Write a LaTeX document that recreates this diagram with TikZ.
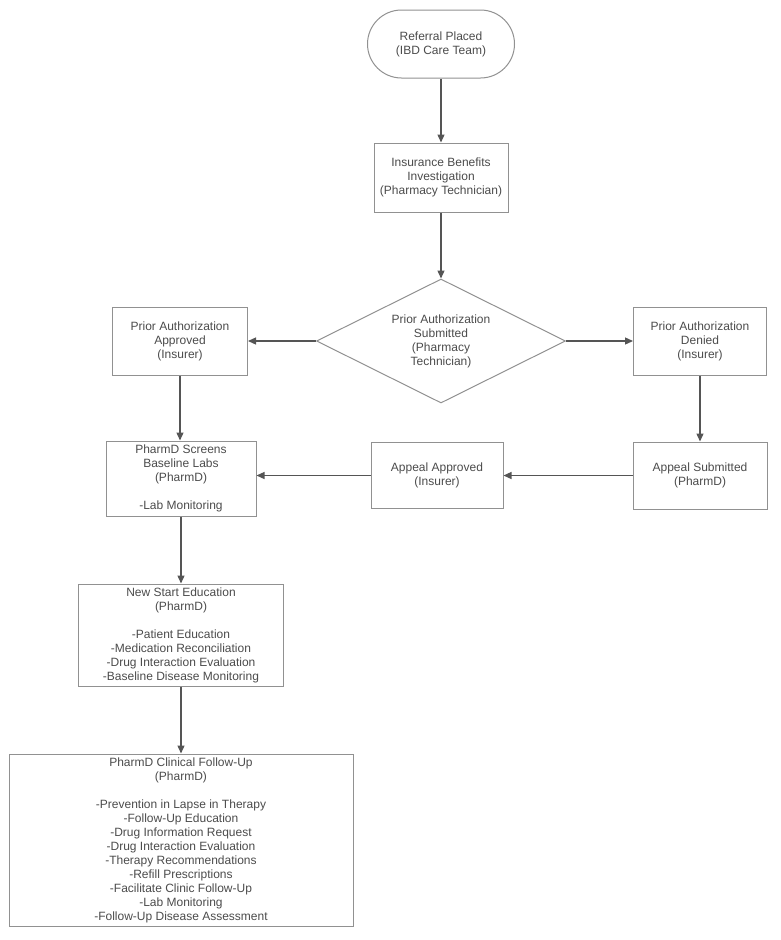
\documentclass[tikz,border=0pt]{standalone}
\usepackage{fontspec}
\setmainfont{Liberation Sans}
\usepackage{tikz}
\usetikzlibrary{arrows.meta,positioning,shapes.geometric}
\definecolor{linegrey}{RGB}{85,85,85}
\definecolor{boxgrey}{RGB}{145,145,145}
\definecolor{textgrey}{RGB}{75,75,75}
\tikzset{
  terminal/.style = {rectangle, rounded corners=34pt, draw=boxgrey, line width=1pt,
                     minimum width=147pt, minimum height=68pt, align=center,
                     font=\fontsize{12}{14}\selectfont, text=textgrey},
  procbox/.style  = {rectangle, draw=boxgrey, line width=1pt, inner sep=2pt,
                     align=center, font=\fontsize{12}{14}\selectfont, text=textgrey},
  decide/.style   = {diamond, aspect=2, draw=boxgrey, line width=1pt, inner sep=0pt,
                     minimum width=249pt, minimum height=124pt, align=center,
                     font=\fontsize{12}{14}\selectfont, text=textgrey},
  arr/.style      = {-{Triangle[length=8pt, width=7pt]}, line width=1.3pt, draw=linegrey},
}

\begin{document}
\begin{tikzpicture}[x=1pt, y=1pt, node distance=66pt and 68pt]
\useasboundingbox (0,0) rectangle (780,-940);

% Referral (start)
\node[terminal] (referral) at (441,-44) {Referral Placed\\(IBD Care Team)};

% Benefits investigation
\node[procbox, minimum width=134pt, minimum height=69pt, below=64pt of referral] (benefits)
  {Insurance Benefits\\Investigation\\(Pharmacy Technician)};
\draw[arr] (referral) -- (benefits);

% PA submitted (decision)
\node[decide, below=66pt of benefits] (pasub)
  {Prior Authorization\\Submitted\\(Pharmacy\\Technician)};
\draw[arr] (benefits) -- (pasub);

% PA outcomes
\node[procbox, minimum width=135pt, minimum height=68pt, left=68pt of pasub] (paok)
  {Prior Authorization\\Approved\\(Insurer)};
\node[procbox, minimum width=133pt, minimum height=68pt, right=67pt of pasub] (pano)
  {Prior Authorization\\Denied\\(Insurer)};
\draw[arr] (pasub) -- (paok);
\draw[arr] (pasub) -- (pano);

% Appeal path
\node[procbox, minimum width=134pt, minimum height=67pt, below=66pt of pano] (appealsub)
  {Appeal Submitted\\(PharmD)};
\node[procbox, minimum width=132pt, minimum height=66pt, left=129pt of appealsub] (appealok)
  {Appeal Approved\\(Insurer)};
\draw[arr] (pano) -- (appealsub);
\draw[arr] (appealsub) -- (appealok);

% PharmD screening
\node[procbox, minimum width=150pt, minimum height=75pt, below=65pt of paok, xshift=1pt] (screen)
  {PharmD Screens\\Baseline Labs\\(PharmD)\\[14pt]-Lab Monitoring};
\draw[arr] (paok) -- (paok.south |- screen.north);
\draw[arr] (appealok.west) -- (appealok.west -| screen.east);

% New start education
\node[procbox, minimum width=205pt, minimum height=102pt, below=67pt of screen] (newstart)
  {New Start Education\\(PharmD)\\[14pt]-Patient Education\\-Medication Reconciliation\\
   -Drug Interaction Evaluation\\-Baseline Disease Monitoring};
\draw[arr] (screen) -- (newstart);

% Clinical follow-up
\node[procbox, minimum width=344pt, minimum height=172pt, below=67pt of newstart] (followup)
  {PharmD Clinical Follow-Up\\(PharmD)\\[14pt]-Prevention in Lapse in Therapy\\
   -Follow-Up Education\\-Drug Information Request\\-Drug Interaction Evaluation\\
   -Therapy Recommendations\\-Refill Prescriptions\\-Facilitate Clinic Follow-Up\\
   -Lab Monitoring\\-Follow-Up Disease Assessment};
\draw[arr] (newstart) -- (followup);

\end{tikzpicture}
\end{document}
